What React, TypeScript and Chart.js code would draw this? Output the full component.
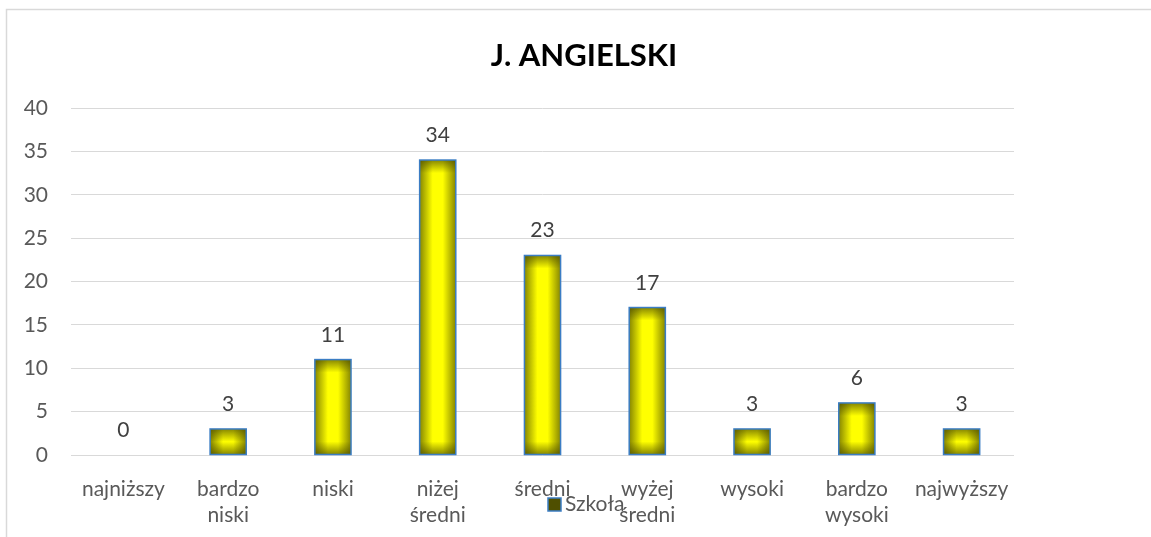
import React, { useEffect, useRef } from 'react';
import { Chart, registerables } from 'chart.js';

Chart.register(...registerables);

const categories: string[][] = [
  ['najniższy'],
  ['bardzo', 'niski'],
  ['niski'],
  ['niżej', 'średni'],
  ['średni'],
  ['wyżej', 'średni'],
  ['wysoki'],
  ['bardzo', 'wysoki'],
  ['najwyższy'],
];
const values: number[] = [0, 3, 11, 34, 23, 17, 3, 6, 3];
const yMin = 0;
const yMax = 40;
const yStep = 5;
const titleText = 'J. ANGIELSKI';
const seriesName = 'Szkoła';

const FONT = 'Lato, "Noto Sans", sans-serif';
const TXT = 21;

const framePlugin = {
  id: 'frame',
  beforeDraw(chart: any) {
    const ctx = chart.ctx;
    ctx.save();
    ctx.fillStyle = '#ffffff';
    ctx.fillRect(0, 0, chart.width, chart.height);
    ctx.strokeStyle = '#d9d9d9';
    ctx.lineWidth = 1.5;
    ctx.strokeRect(6.5, 9.5, chart.width + 20, chart.height + 40);
    ctx.restore();
  },
  afterDraw(chart: any) {
    const ctx = chart.ctx;
    ctx.save();
    // title
    ctx.font = `bold 31px ${FONT}`;
    ctx.fillStyle = '#000000';
    ctx.textAlign = 'center';
    ctx.textBaseline = 'middle';
    ctx.fillText(titleText, 584, 56);
    // legend
    const bx = 548, by = 498, bs = 13;
    ctx.fillStyle = '#4f4f00';
    ctx.fillRect(bx, by, bs, bs);
    ctx.strokeStyle = '#3b7dc4';
    ctx.lineWidth = 1.5;
    ctx.strokeRect(bx, by, bs, bs);
    ctx.font = `${TXT}px ${FONT}`;
    ctx.fillStyle = '#595959';
    ctx.textAlign = 'left';
    ctx.textBaseline = 'middle';
    ctx.fillText(seriesName, bx + bs + 4, by + bs / 2);
    ctx.restore();
  },
};

const barPlugin = {
  id: 'barStyle',
  afterDatasetsDraw(chart: any) {
    const ctx = chart.ctx;
    const meta = chart.getDatasetMeta(0);
    meta.data.forEach((el: any, i: number) => {
      const { x, y, base, width } = el.getProps(['x', 'y', 'base', 'width'], true);
      const left = x - width / 2;
      const right = x + width / 2;
      const top = Math.min(y, base);
      const bottom = Math.max(y, base);
      const h = bottom - top;
      ctx.save();
      if (h > 0.5) {
        ctx.fillStyle = '#ffff00';
        ctx.fillRect(left, top, width, h);
        const d = Math.min(13, width / 2);
        const f = d / width;
        const gh = ctx.createLinearGradient(left, 0, right, 0);
        gh.addColorStop(0, 'rgba(70,70,0,0.65)');
        gh.addColorStop(f, 'rgba(70,70,0,0)');
        gh.addColorStop(1 - f, 'rgba(70,70,0,0)');
        gh.addColorStop(1, 'rgba(70,70,0,0.65)');
        ctx.fillStyle = gh;
        ctx.fillRect(left, top, width, h);
        const dv = Math.min(13, h / 2);
        const fv = dv / h;
        const gv = ctx.createLinearGradient(0, top, 0, bottom);
        gv.addColorStop(0, 'rgba(70,70,0,0.65)');
        gv.addColorStop(fv, 'rgba(70,70,0,0)');
        gv.addColorStop(1 - fv, 'rgba(70,70,0,0)');
        gv.addColorStop(1, 'rgba(70,70,0,0.65)');
        ctx.fillStyle = gv;
        ctx.fillRect(left, top, width, h);
        ctx.strokeStyle = '#3b7dc4';
        ctx.lineWidth = 1.5;
        ctx.strokeRect(left, top, width, h);
      }
      ctx.font = `${TXT}px ${FONT}`;
      ctx.fillStyle = '#404040';
      ctx.textAlign = 'center';
      ctx.textBaseline = 'alphabetic';
      ctx.fillText(String(values[i]), x, top - 18);
      ctx.restore();
    });
  },
};

export default function App() {
  const ref = useRef<HTMLCanvasElement | null>(null);
  useEffect(() => {
    if (!ref.current) return;
    const chart = new Chart(ref.current, {
      type: 'bar',
      data: {
        labels: categories,
        datasets: [
          {
            label: seriesName,
            data: values,
            backgroundColor: '#ffff00',
            borderWidth: 0,
            barPercentage: 0.345,
            categoryPercentage: 1,
          },
        ],
      },
      options: {
        responsive: false,
        animation: false,
        layout: { padding: { top: 108, right: 137, left: 0, bottom: 0 } },
        plugins: {
          legend: { display: false },
          title: { display: false },
          tooltip: { enabled: false },
        },
        scales: {
          x: {
            grid: { display: false },
            border: { display: false },
            ticks: {
              color: '#595959',
              font: { family: FONT, size: TXT, lineHeight: 1.24 },
              padding: 13,
              maxRotation: 0,
              autoSkip: false,
            },
            afterFit: (scale: any) => {
              scale.height = 82;
            },
          },
          y: {
            min: yMin,
            max: yMax,
            grid: { color: '#d9d9d9', lineWidth: 1, drawTicks: false },
            border: { display: false },
            ticks: {
              stepSize: yStep,
              color: '#595959',
              font: { family: FONT, size: TXT },
              padding: 23,
            },
            afterFit: (scale: any) => {
              scale.width = 71;
            },
          },
        },
      },
      plugins: [framePlugin, barPlugin],
    });
    return () => chart.destroy();
  }, []);
  return (
    <div style={{ position: 'absolute', left: 0, top: 0, width: 1151, height: 537 }}>
      <canvas ref={ref} width={1151} height={537} style={{ display: 'block' }} />
    </div>
  );
}
